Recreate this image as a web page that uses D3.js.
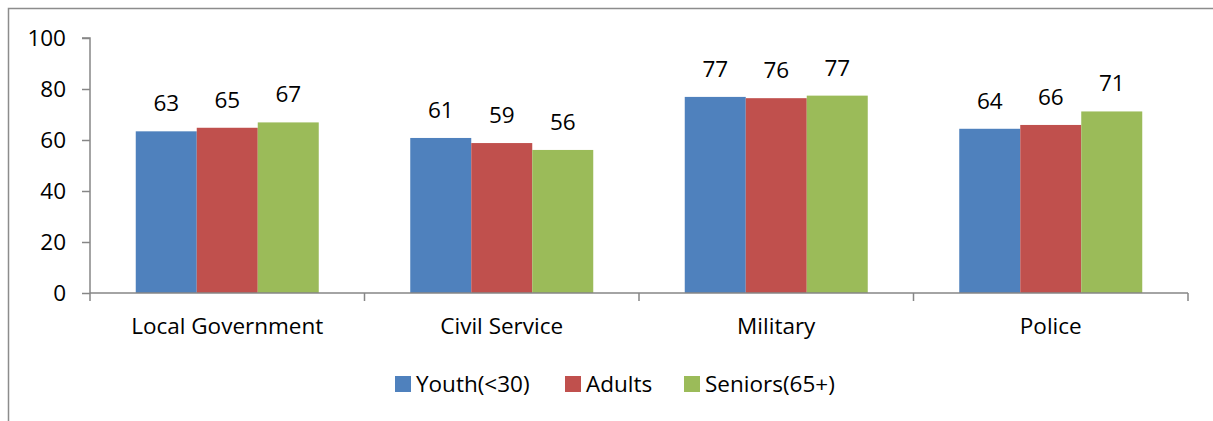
<!DOCTYPE html>
<html>
<head>
<meta charset="utf-8">
<script src="https://cdn.jsdelivr.net/npm/d3@7"></script>
<style>
body { margin: 0; background: #fff; }
svg { font-family: "Open Sans", sans-serif; }
</style>
</head>
<body>
<svg></svg>
<script>
let width = 1213, height = 421

let categories = ["Local Government", "Civil Service", "Military", "Police"]
let seriesNames = ["Youth(<30)", "Adults", "Seniors(65+)"]
let youth = [63.4, 60.8, 76.9, 64.4]
let adults = [64.8, 58.8, 76.4, 65.9]
let seniors = [66.9, 56.1, 77.4, 71.2]
let yTicks = [0, 20, 40, 60, 80, 100]
let colors = ["#4f81bd", "#c0504d", "#9bbb59"]

let seriesValues = [youth, adults, seniors]
let fontSize = 22.5

let svg = d3.select("svg").attr("width", width).attr("height", height)

// chart frame (cut off at right and bottom like the source)
svg.append("rect")
    .attr("x", 8.5).attr("y", 8.5)
    .attr("width", 1300).attr("height", 500)
    .attr("fill", "none")
    .attr("stroke", "#8c8c8c")
    .attr("stroke-width", 1.5)

let margin = {left: 90, right: 25, top: 38, bottom: 128}

let x0 = d3.scaleBand()
    .domain(categories)
    .range([margin.left, width - margin.right])

let x1 = d3.scaleBand()
    .domain(seriesNames)
    .range([0, x0.bandwidth()])
    .paddingOuter(0.75)

let y = d3.scaleLinear()
    .domain([0, 100])
    .range([height - margin.bottom, margin.top])

// bars
let groups = svg.selectAll(".group")
    .data(categories)
    .enter()
    .append("g")
    .attr("transform", d => `translate(${x0(d)},0)`)

groups.selectAll("rect")
    .data((d, i) => seriesNames.map((s, j) => ({s: s, v: seriesValues[j][i], c: colors[j]})))
    .enter()
    .append("rect")
    .attr("x", d => x1(d.s))
    .attr("width", x1.bandwidth())
    .attr("y", d => y(d.v))
    .attr("height", d => y(0) - y(d.v))
    .attr("fill", d => d.c)

groups.selectAll(".lbl")
    .data((d, i) => seriesNames.map((s, j) => ({s: s, v: seriesValues[j][i]})))
    .enter()
    .append("text")
    .attr("x", d => x1(d.s) + x1.bandwidth() / 2)
    .attr("y", d => y(d.v) - 20)
    .attr("text-anchor", "middle")
    .attr("font-size", fontSize)
    .attr("fill", "#000")
    .text(d => Math.round(d.v))

// y axis
let yAxis = svg.append("g")
    .attr("transform", `translate(${margin.left},0)`)
    .call(d3.axisLeft(y).tickValues(yTicks).tickSize(8).tickPadding(16))
yAxis.selectAll("path, line").attr("stroke", "#868686").attr("stroke-width", 1.5)
yAxis.select(".domain").attr("d", `M-8,${y(100)}H0V${y(0)}`)
yAxis.selectAll("text").attr("font-size", fontSize).attr("fill", "#000").attr("font-family", "'Open Sans', sans-serif")

// x axis
let xg = svg.append("g")
    .attr("transform", `translate(0,${y(0)})`)
xg.append("line")
    .attr("x1", margin.left).attr("x2", width - margin.right)
    .attr("stroke", "#868686").attr("stroke-width", 1.5)
let bounds = categories.map(c => x0(c)).concat([x0(categories[categories.length - 1]) + x0.bandwidth()])
xg.selectAll(".tick")
    .data(bounds)
    .enter()
    .append("line")
    .attr("x1", d => d).attr("x2", d => d)
    .attr("y1", 0).attr("y2", 8)
    .attr("stroke", "#868686").attr("stroke-width", 1.5)
xg.selectAll(".cat")
    .data(categories)
    .enter()
    .append("text")
    .attr("x", d => x0(d) + x0.bandwidth() / 2)
    .attr("y", 41)
    .attr("text-anchor", "middle")
    .attr("font-size", fontSize)
    .attr("fill", "#000")
    .text(d => d)

// legend
let legendX = [395, 565, 684]
let legend = svg.append("g")
legend.selectAll("rect")
    .data(seriesNames)
    .enter()
    .append("rect")
    .attr("x", (d, i) => legendX[i])
    .attr("y", 376)
    .attr("width", 16).attr("height", 16)
    .attr("fill", (d, i) => colors[i])
legend.selectAll("text")
    .data(seriesNames)
    .enter()
    .append("text")
    .attr("x", (d, i) => legendX[i] + 21)
    .attr("y", 392)
    .attr("font-size", fontSize)
    .attr("fill", "#000")
    .text(d => d)
</script>
</body>
</html>
